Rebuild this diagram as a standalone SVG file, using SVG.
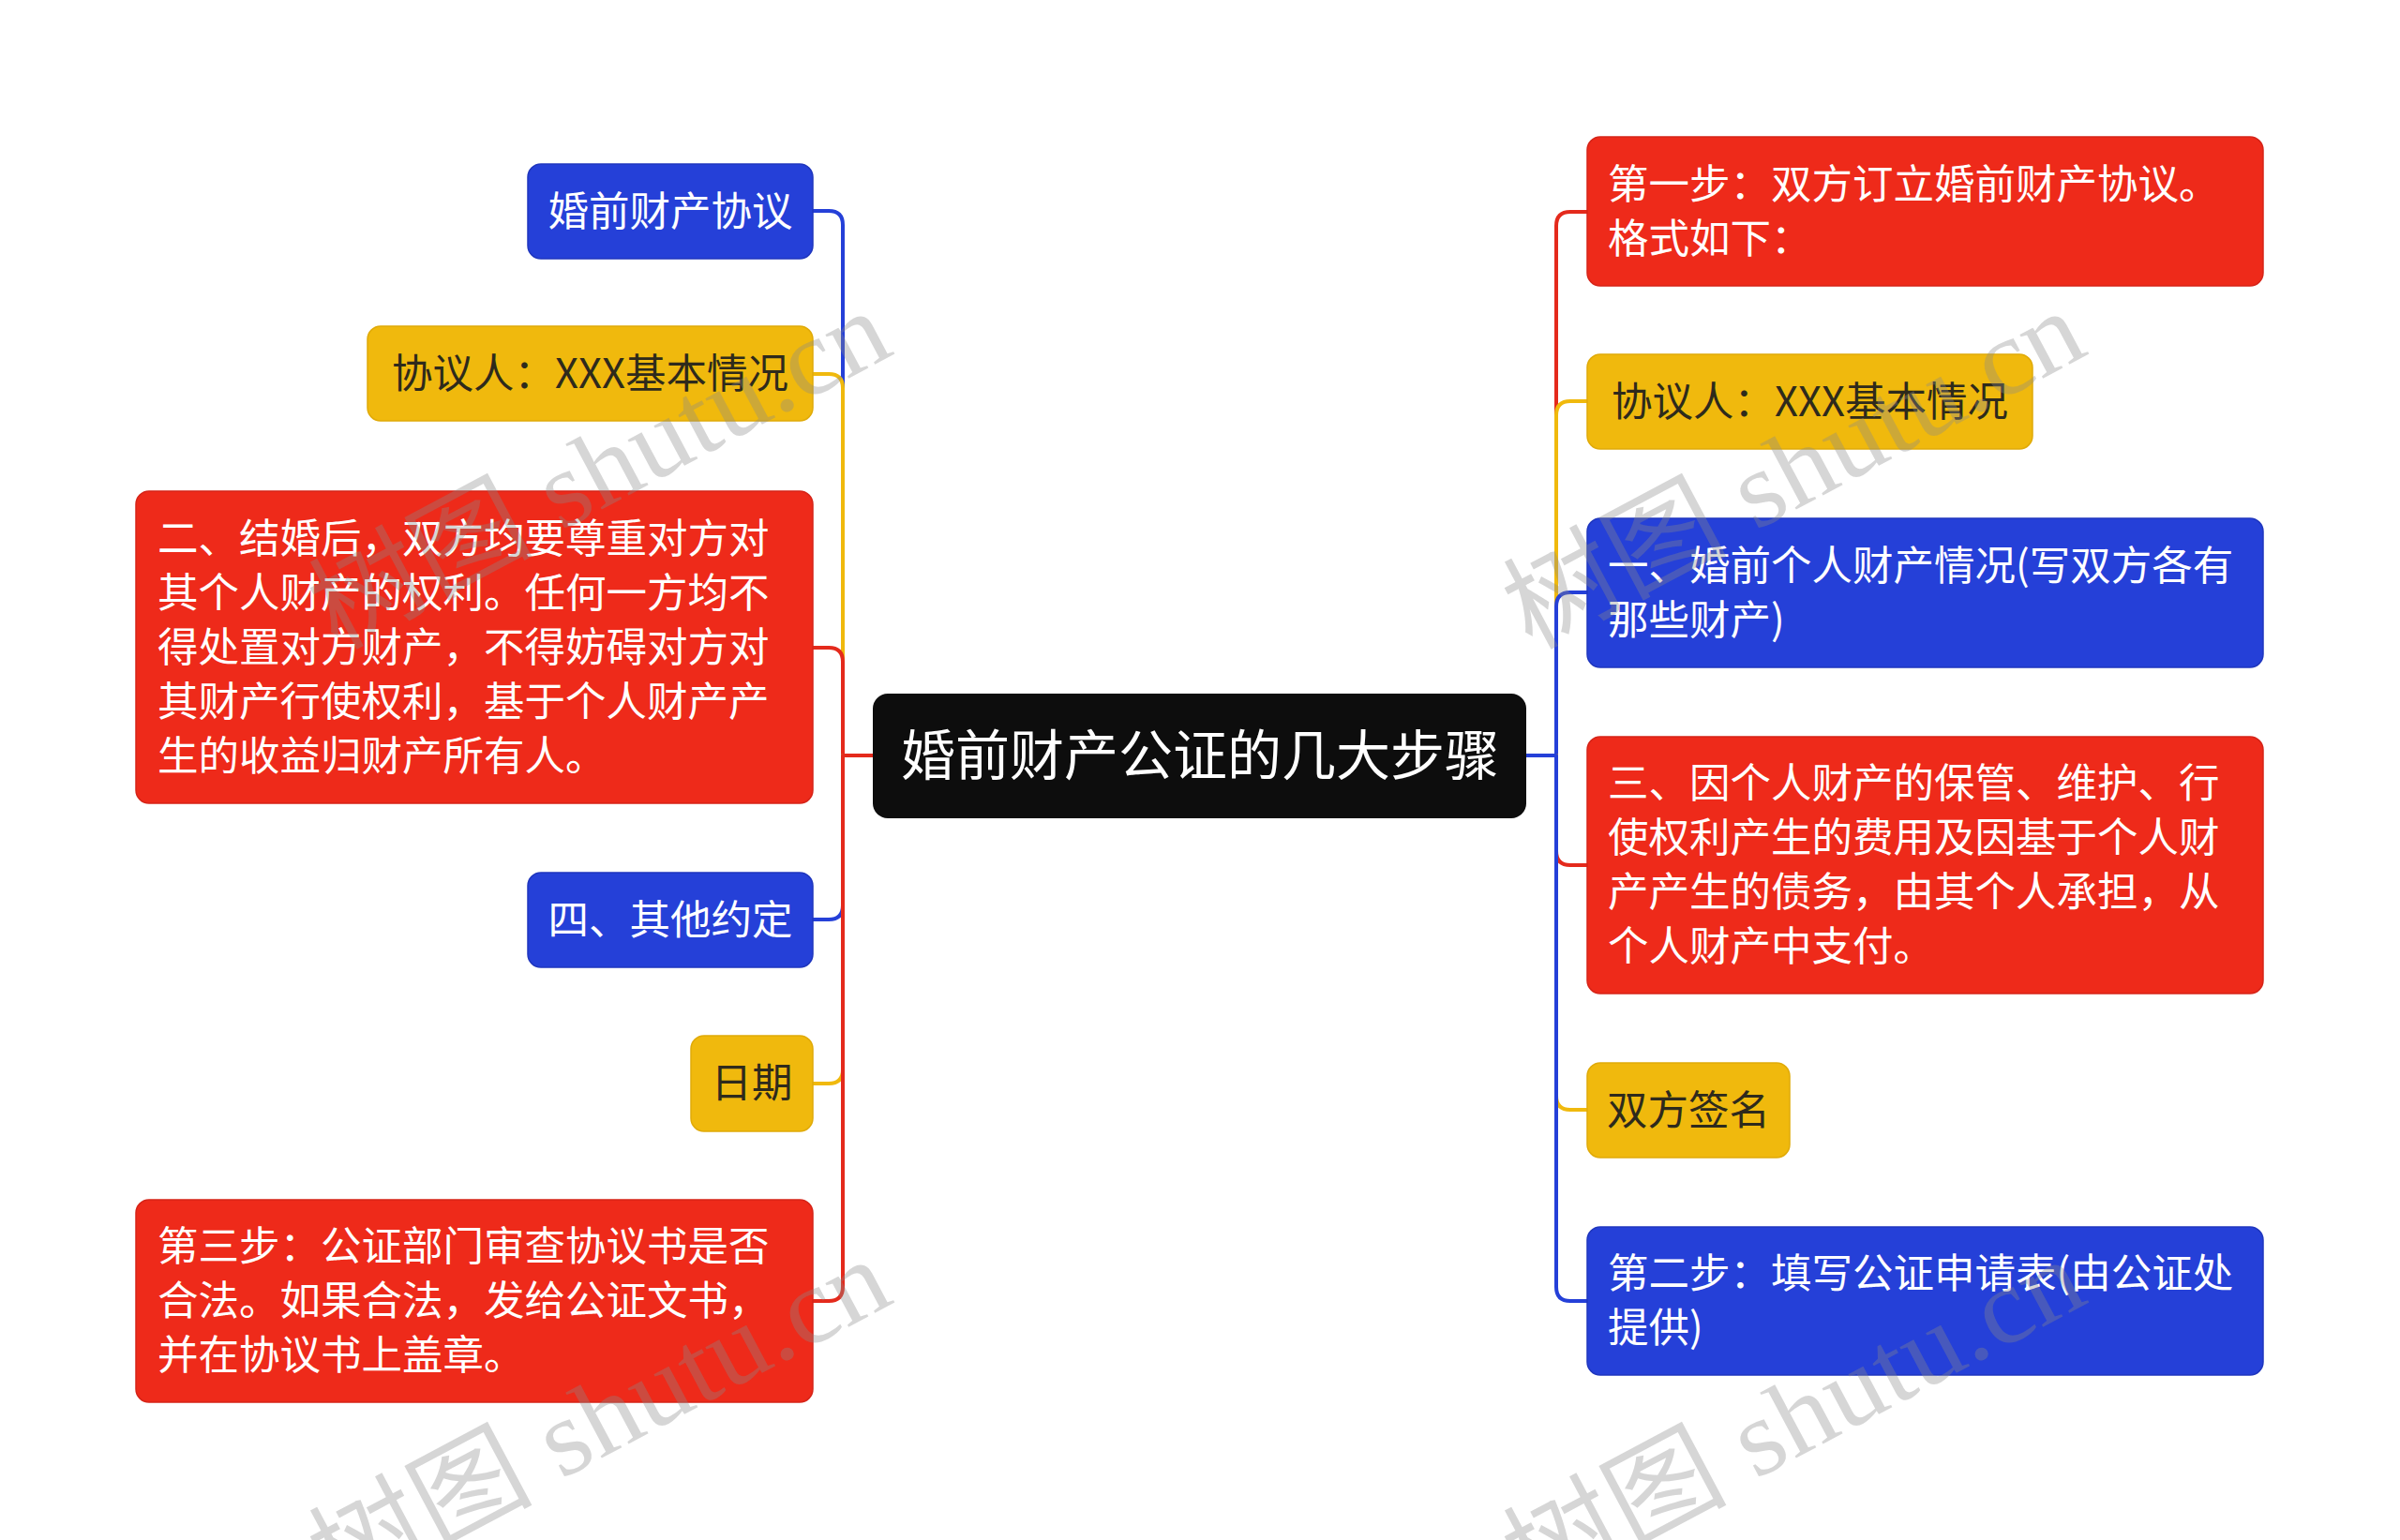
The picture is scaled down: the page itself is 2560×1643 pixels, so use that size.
<svg xmlns="http://www.w3.org/2000/svg" width="2560" height="1643" viewBox="0 0 2560 1643">
<style>
.t{font-family:'Noto Sans CJK SC','Noto Sans',sans-serif;font-size:43.5px}
.w{fill:#ffffff}
.d{fill:#2e2a1c}
.red{fill:#EE2A1A;stroke:#D62418;stroke-width:1.5}
.blue{fill:#2540D8;stroke:#1F36BE;stroke-width:1.5}
.yel{fill:#F0B90D;stroke:#E0AA08;stroke-width:1.5}
.c{fill:none;stroke-width:4;stroke-linejoin:round}
.cr{stroke:#E42A1C}.cb{stroke:#2540D8}.cy{stroke:#F0B90D}
.wm{font-family:'Liberation Serif','Noto Sans CJK SC',serif;font-size:115px;fill:#8a8a8a;fill-opacity:0.35}
</style>
<rect width="2560" height="1643" fill="#ffffff"/>
<g id="connectors">
<path class="c cb" d="M931,806 H899 V240 Q899,225 884,225 H867"/>
<path class="c cy" d="M931,806 H899 V414 Q899,399 884,399 H867"/>
<path class="c cr" d="M931,806 H899 V706 Q899,691 884,691 H867"/>
<path class="c cb" d="M931,806 H899 V966 Q899,981 884,981 H867"/>
<path class="c cy" d="M931,806 H899 V1141 Q899,1156 884,1156 H867"/>
<path class="c cr" d="M931,806 H899 V1373 Q899,1388 884,1388 H867"/>
<path class="c cr" d="M1628,806 H1660 V241 Q1660,226 1675,226 H1693"/>
<path class="c cy" d="M1628,806 H1660 V443 Q1660,428 1675,428 H1693"/>
<path class="c cb" d="M1628,806 H1660 V647 Q1660,632 1675,632 H1693"/>
<path class="c cr" d="M1628,806 H1660 V908 Q1660,923 1675,923 H1693"/>
<path class="c cy" d="M1628,806 H1660 V1169 Q1660,1184 1675,1184 H1693"/>
<path class="c cb" d="M1628,806 H1660 V1373 Q1660,1388 1675,1388 H1693"/>
</g>
<g id="center">
<rect x="931" y="740" width="697" height="133" rx="16" fill="#0D0D0D"/>
<text class="t w" x="1280" y="827" text-anchor="middle" style="font-size:58px">婚前财产公证的几大步骤</text>
</g>
<g id="l1">
<rect class="blue" x="563" y="175" width="304" height="101" rx="14"/>
<text class="t w" x="715" y="240.5" text-anchor="middle">婚前财产协议</text>
</g>
<g id="l2">
<rect class="yel" x="392" y="348" width="475" height="101" rx="14"/>
<text class="t d" x="629.5" y="413.5" text-anchor="middle">协议人：XXX基本情况</text>
</g>
<g id="l3">
<rect class="red" x="145" y="524" width="722" height="333" rx="14"/>
<text class="t w" x="168"><tspan x="168" y="589.5">二、结婚后，双方均要尊重对方对</tspan><tspan x="168" y="647.5">其个人财产的权利。任何一方均不</tspan><tspan x="168" y="705.5">得处置对方财产，不得妨碍对方对</tspan><tspan x="168" y="763.5">其财产行使权利，基于个人财产产</tspan><tspan x="168" y="821.5">生的收益归财产所有人。</tspan></text>
</g>
<g id="l4">
<rect class="blue" x="563" y="931" width="304" height="101" rx="14"/>
<text class="t w" x="715" y="996.5" text-anchor="middle">四、其他约定</text>
</g>
<g id="l5">
<rect class="yel" x="737" y="1105" width="130" height="102" rx="14"/>
<text class="t d" x="802" y="1171" text-anchor="middle">日期</text>
</g>
<g id="l6">
<rect class="red" x="145" y="1280" width="722" height="216" rx="14"/>
<text class="t w" x="168"><tspan x="168" y="1345">第三步：公证部门审查协议书是否</tspan><tspan x="168" y="1403">合法。如果合法，发给公证文书，</tspan><tspan x="168" y="1461">并在协议书上盖章。</tspan></text>
</g>
<g id="r1">
<rect class="red" x="1693" y="146" width="721" height="159" rx="14"/>
<text class="t w" x="1715"><tspan x="1715" y="211.5">第一步：双方订立婚前财产协议。</tspan><tspan x="1715" y="269.5">格式如下：</tspan></text>
</g>
<g id="r2">
<rect class="yel" x="1693" y="378" width="475" height="101" rx="14"/>
<text class="t d" x="1930.5" y="443.5" text-anchor="middle">协议人：XXX基本情况</text>
</g>
<g id="r3">
<rect class="blue" x="1693" y="553" width="721" height="159" rx="14"/>
<text class="t w" x="1715"><tspan x="1715" y="618.5">一、婚前个人财产情况(写双方各有</tspan><tspan x="1715" y="676.5">那些财产)</tspan></text>
</g>
<g id="r4">
<rect class="red" x="1693" y="786" width="721" height="274" rx="14"/>
<text class="t w" x="1715"><tspan x="1715" y="851">三、因个人财产的保管、维护、行</tspan><tspan x="1715" y="909">使权利产生的费用及因基于个人财</tspan><tspan x="1715" y="967">产产生的债务，由其个人承担，从</tspan><tspan x="1715" y="1025">个人财产中支付。</tspan></text>
</g>
<g id="r5">
<rect class="yel" x="1693" y="1134" width="216" height="101" rx="14"/>
<text class="t d" x="1801" y="1199.5" text-anchor="middle">双方签名</text>
</g>
<g id="r6">
<rect class="blue" x="1693" y="1309" width="721" height="158" rx="14"/>
<text class="t w" x="1715"><tspan x="1715" y="1374">第二步：填写公证申请表(由公证处</tspan><tspan x="1715" y="1432">提供)</tspan></text>
</g>
<g id="watermarks">
<text class="wm" transform="translate(359,694) rotate(-28)" textLength="676" lengthAdjust="spacingAndGlyphs">树图 shutu.cn</text>
<text class="wm" transform="translate(1633,694) rotate(-28)" textLength="676" lengthAdjust="spacingAndGlyphs">树图 shutu.cn</text>
<text class="wm" transform="translate(359,1706) rotate(-28)" textLength="676" lengthAdjust="spacingAndGlyphs">树图 shutu.cn</text>
<text class="wm" transform="translate(1633,1706) rotate(-28)" textLength="676" lengthAdjust="spacingAndGlyphs">树图 shutu.cn</text>
</g>
</svg>
